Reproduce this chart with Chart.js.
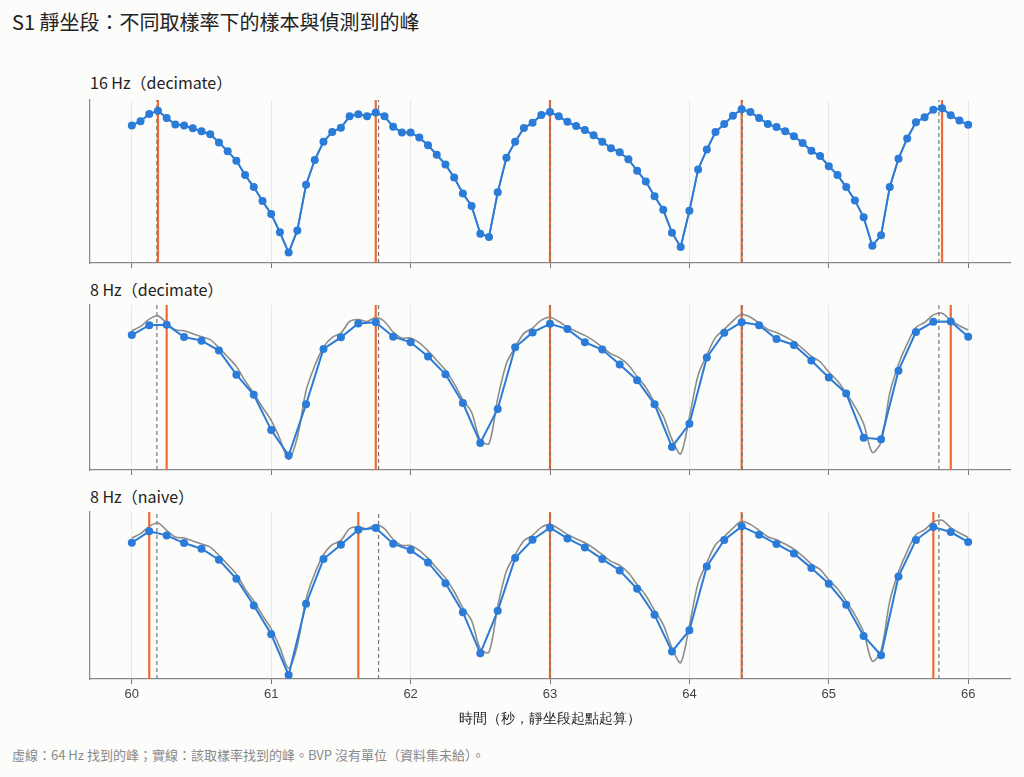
<!DOCTYPE html>
<html>
<head>
<meta charset="utf-8">
<script src="https://cdn.jsdelivr.net/npm/chart.js@4"></script>
<style>
  body { margin: 0; background: #fcfcfa; font-family: "Noto Sans CJK TC", "Noto Sans", sans-serif; }
  #wrap { position: relative; width: 1024px; height: 777px; }
  .txt { position: absolute; color: #222; white-space: nowrap; }
  canvas { position: absolute; left: 0; }
</style>
</head>
<body>
<div id="wrap">
  <div class="txt" style="left:12px;top:7px;font-size:20px;">S1 靜坐段：不同取樣率下的樣本與偵測到的峰</div>
  <div class="txt" style="left:90px;top:70px;font-size:16px;">16 Hz（decimate）</div>
  <div class="txt" style="left:90px;top:277px;font-size:16px;">8 Hz（decimate）</div>
  <div class="txt" style="left:90px;top:484px;font-size:16px;">8 Hz（naive）</div>
  <div class="txt" style="left:12px;top:745px;font-size:13px;color:#8a8a8a;">虛線：64 Hz 找到的峰；實線：該取樣率找到的峰。BVP 沒有單位（資料集未給）。</div>
  <canvas id="c1" style="top:96px" width="1024" height="175"></canvas>
  <canvas id="c2" style="top:301px" width="1024" height="177"></canvas>
  <canvas id="c3" style="top:508px" width="1024" height="222"></canvas>
</div>
<script>
// samples start at 60 s
const tStart = 60;
const bvp16 = [82.4, 85, 89.4, 91.4, 87, 83, 82.4, 80.6, 78.8, 77, 72, 66.6, 60.8, 52, 44.6, 36, 28, 16.8, 4.4, 18,
  46, 61.2, 72.4, 78.4, 81, 88, 89.2, 88, 90.4, 88, 81.6, 78, 78, 75, 70.2, 64.4, 58.4, 50.4, 40.6, 33,
  16, 14, 41.4, 62.6, 72.4, 80.8, 84, 88.8, 90.6, 88, 84.6, 82, 79.6, 76.4, 72.4, 68.4, 66, 61.6, 54.6, 48,
  39, 30.6, 16.6, 7.8, 30, 55.4, 67.6, 78.4, 83.2, 88.4, 92.4, 90.6, 87, 83.2, 81.4, 78.8, 75.8, 71.6, 66.8, 63.6,
  57.4, 52, 44.6, 36.4, 26, 8.6, 15, 44.6, 62, 74.4, 84.4, 87.4, 92, 93, 88.6, 85.4, 82.8];
const bvp8Dec = [79.8, 85.8, 86, 78.6, 76.4, 70.4, 55.8, 43.6, 22.2, 6.8, 37.8, 71.4, 78.4, 86.8, 87.6, 78.8, 75.4,
  66.8, 56, 38.6, 14.4, 35, 72.4, 81.4, 86.6, 83.4, 75.4, 71, 62, 52.4, 37.8, 12, 26, 66.2, 81.2, 87.6, 85.8,
  77.4, 73.8, 64.4, 54, 44.4, 17.6, 16.6, 58.2, 81.6, 87.8, 88, 78.8];
const bvp8Naive = [79.6, 86.4, 84, 79.4, 76, 69.4, 58, 42, 24.8, 0.4, 43, 69.8, 78.4, 87.4, 88.4, 79, 75.2, 67.8,
  55.4, 38, 13.4, 38.8, 70.4, 81.4, 88.6, 82.2, 76.8, 69.8, 63, 52, 36.4, 14.4, 27.2, 65.4, 81.2, 89.4, 84.4,
  78.8, 73.2, 64.4, 55, 42.4, 23.8, 12.2, 59.4, 81.2, 89, 86, 80];
const peaks64 = [60.18, 61.77, 63.0, 64.38, 65.79];
const peaks16 = [60.1875, 61.75, 63.0, 64.375, 65.8125];
const peaks8Dec = [60.25, 61.75, 63.0, 64.375, 65.875];
const peaks8Naive = [60.125, 61.625, 63.0, 64.375, 65.75];
const xTicks = [60, 61, 62, 63, 64, 65, 66];

const Y_MIN = -2, Y_MAX = 98;
const toPts = (arr, hz) => arr.map((v, i) => ({ x: tStart + i / hz, y: v }));
const vlines = peaks => peaks.flatMap(p => [{ x: p, y: Y_MIN }, { x: p, y: Y_MAX }, { x: p, y: null }]);

function makePanel(id, samples, hz, peaks, bottom) {
  const datasets = [
    { data: vlines(peaks), borderColor: '#ee6a35', borderWidth: 2.2, pointRadius: 0, spanGaps: false, order: 3 },
    { data: vlines(peaks64), borderColor: '#777', borderWidth: 1.2, borderDash: [4, 3], pointRadius: 0, spanGaps: false, order: 2 },
    { data: toPts(bvp16, 16), borderColor: '#8c8c8c', borderWidth: 1.6, pointRadius: 0, tension: hz === 16 ? 0 : 0.3, order: 4 },
    { data: toPts(samples, hz), borderColor: '#2b7bd8', backgroundColor: '#2b7bd8', borderWidth: 2,
      pointRadius: 4, pointBorderWidth: 0, order: 1 }
  ];
  new Chart(document.getElementById(id), {
    type: 'line',
    data: { datasets },
    options: {
      responsive: false, animation: false,
      layout: { padding: { left: 90, right: 14, top: 4, bottom: 0 } },
      plugins: { legend: { display: false }, tooltip: { enabled: false } },
      scales: {
        x: {
          type: 'linear', min: 59.7, max: 66.3,
          afterBuildTicks: s => { s.ticks = xTicks.map(v => ({ value: v })); },
          afterFit: s => { s.height = bottom ? 51 : 8; },
          grid: { color: '#e8e8e8', tickColor: '#777', tickLength: 5 },
          border: { color: '#888', width: 1.2 },
          ticks: { display: bottom, color: '#444', font: { size: 13 } },
          title: { display: bottom, text: '時間（秒，靜坐段起點起算）', color: '#222', font: { size: 14 }, padding: 2 }
        },
        y: {
          min: Y_MIN, max: Y_MAX,
          afterFit: s => { s.width = 0; },
          grid: { display: false },
          border: { color: '#888', width: 1.2 },
          ticks: { display: false }
        }
      }
    }
  });
}

makePanel('c1', bvp16, 16, peaks16, false);
makePanel('c2', bvp8Dec, 8, peaks8Dec, false);
makePanel('c3', bvp8Naive, 8, peaks8Naive, true);
</script>
</body>
</html>
